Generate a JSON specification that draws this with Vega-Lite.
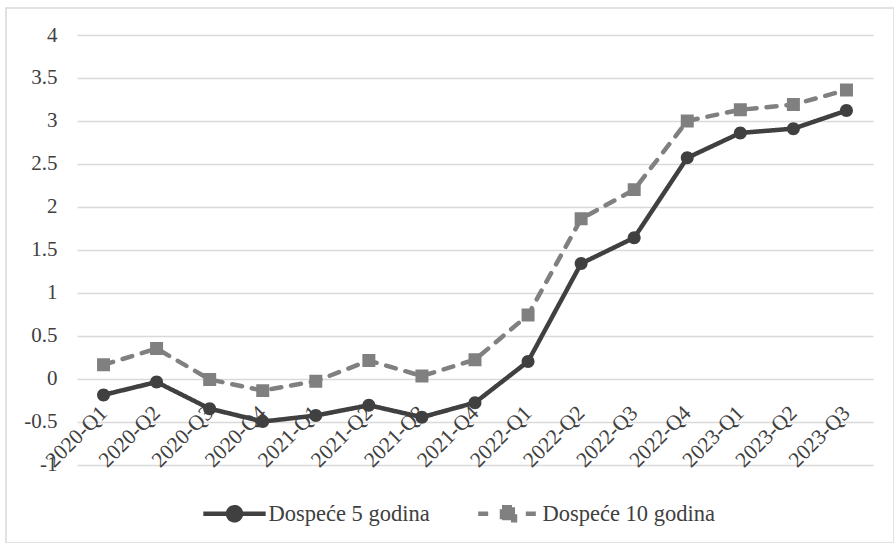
{
  "$schema": "https://vega.github.io/schema/vega-lite/v6.json",
  "width": 888,
  "height": 535,
  "autosize": {"type": "none"},
  "padding": {"left": 6, "top": 8, "right": 0, "bottom": 0},
  "background": "white",
  "config": {
    "font": "Liberation Serif",
    "view": {"stroke": "#d9d9d9", "strokeWidth": 1.5},
    "legend": {
      "orient": "none",
      "direction": "horizontal",
      "legendX": 182.5,
      "legendY": 459.5,
      "padding": 0,
      "offset": 0,
      "symbolSize": 7500,
      "symbolStrokeWidth": 4.5,
      "labelOffset": -12,
      "columnPadding": 32,
      "labelLimit": 400,
      "labelFont": "Liberation Serif",
      "labelFontSize": 22.5,
      "labelColor": "#404040"
    }
  },
  "data": {
    "values": [
      {"q": "2020-Q1", "series": "Dospeće 5 godina", "v": -0.19},
      {"q": "2020-Q2", "series": "Dospeće 5 godina", "v": -0.04},
      {"q": "2020-Q3", "series": "Dospeće 5 godina", "v": -0.35},
      {"q": "2020-Q4", "series": "Dospeće 5 godina", "v": -0.5},
      {"q": "2021-Q1", "series": "Dospeće 5 godina", "v": -0.43},
      {"q": "2021-Q2", "series": "Dospeće 5 godina", "v": -0.31},
      {"q": "2021-Q3", "series": "Dospeće 5 godina", "v": -0.45},
      {"q": "2021-Q4", "series": "Dospeće 5 godina", "v": -0.28},
      {"q": "2022-Q1", "series": "Dospeće 5 godina", "v": 0.2},
      {"q": "2022-Q2", "series": "Dospeće 5 godina", "v": 1.34},
      {"q": "2022-Q3", "series": "Dospeće 5 godina", "v": 1.64},
      {"q": "2022-Q4", "series": "Dospeće 5 godina", "v": 2.57},
      {"q": "2023-Q1", "series": "Dospeće 5 godina", "v": 2.86},
      {"q": "2023-Q2", "series": "Dospeće 5 godina", "v": 2.91},
      {"q": "2023-Q3", "series": "Dospeće 5 godina", "v": 3.12},
      {"q": "2020-Q1", "series": "Dospeće 10 godina", "v": 0.16},
      {"q": "2020-Q2", "series": "Dospeće 10 godina", "v": 0.35},
      {"q": "2020-Q3", "series": "Dospeće 10 godina", "v": -0.01},
      {"q": "2020-Q4", "series": "Dospeće 10 godina", "v": -0.14},
      {"q": "2021-Q1", "series": "Dospeće 10 godina", "v": -0.03},
      {"q": "2021-Q2", "series": "Dospeće 10 godina", "v": 0.21},
      {"q": "2021-Q3", "series": "Dospeće 10 godina", "v": 0.03},
      {"q": "2021-Q4", "series": "Dospeće 10 godina", "v": 0.22},
      {"q": "2022-Q1", "series": "Dospeće 10 godina", "v": 0.74},
      {"q": "2022-Q2", "series": "Dospeće 10 godina", "v": 1.86},
      {"q": "2022-Q3", "series": "Dospeće 10 godina", "v": 2.2},
      {"q": "2022-Q4", "series": "Dospeće 10 godina", "v": 3.0},
      {"q": "2023-Q1", "series": "Dospeće 10 godina", "v": 3.13},
      {"q": "2023-Q2", "series": "Dospeće 10 godina", "v": 3.19},
      {"q": "2023-Q3", "series": "Dospeće 10 godina", "v": 3.36}
    ]
  },
  "encoding": {
    "x": {
      "field": "q",
      "type": "nominal",
      "sort": null,
      "scale": {"type": "point", "range": [71, 867], "padding": 0.5},
      "axis": {
        "title": null,
        "orient": "bottom",
        "offset": -164.4,
        "domain": false,
        "ticks": false,
        "grid": false,
        "labelAngle": -45,
        "labelAlign": "right",
        "labelBaseline": "middle",
        "labelPadding": 31,
        "labelFont": "Liberation Serif",
        "labelFontSize": 21.5,
        "labelColor": "#404040",
        "labelOverlap": false
      }
    },
    "y": {
      "field": "v",
      "type": "quantitative",
      "scale": {"domain": [-1, 4], "range": [456.5, 27], "nice": false, "zero": false},
      "axis": {
        "title": null,
        "orient": "left",
        "offset": -71,
        "values": [-1, -0.5, 0, 0.5, 1, 1.5, 2, 2.5, 3, 3.5, 4],
        "labelExpr": "'' + datum.value",
        "domain": false,
        "ticks": false,
        "grid": true,
        "gridColor": "#d9d9d9",
        "gridWidth": 1.5,
        "labelPadding": 20,
        "labelFont": "Liberation Serif",
        "labelFontSize": 21,
        "labelColor": "#404040",
        "labelOverlap": false
      }
    },
    "color": {
      "field": "series",
      "type": "nominal",
      "scale": {"domain": ["Dospeće 5 godina", "Dospeće 10 godina"], "range": ["#404040", "#808080"]},
      "legend": {"title": null}
    }
  },
  "layer": [
    {
      "mark": {"type": "line", "strokeWidth": 4.5, "strokeCap": "round", "strokeJoin": "round"},
      "encoding": {
        "strokeDash": {
          "field": "series",
          "type": "nominal",
          "scale": {"domain": ["Dospeće 5 godina", "Dospeće 10 godina"], "range": [[1, 0], [10, 10]]},
          "legend": null
        }
      }
    },
    {
      "description": "Markers: the filled part of each symbol is the circle or square; the open line strokes only show in the legend key.",
      "mark": {"type": "point", "filled": true, "opacity": 1, "size": 7500},
      "encoding": {
        "shape": {
          "field": "series",
          "type": "nominal",
          "scale": {
            "domain": ["Dospeće 5 godina", "Dospeće 10 godina"],
            "range": [
              "M-0.72,0H0.72M-0.15,0A0.15,0.15,0,1,1,0.15,0A0.15,0.15,0,1,1,-0.15,0Z",
              "M-0.7,0H-0.4M0.4,0H0.7M-0.15,-0.15H0.15V0.15H-0.15Z"
            ]
          },
          "legend": {"title": null}
        }
      }
    },
    {
      "description": "Stroke colour for the legend key (no marks of its own).",
      "transform": [{"filter": "false"}],
      "mark": {"type": "point", "filled": false, "size": 7500, "strokeWidth": 4.5},
      "encoding": {
        "stroke": {
          "field": "series",
          "type": "nominal",
          "scale": {"domain": ["Dospeće 5 godina", "Dospeće 10 godina"], "range": ["#404040", "#808080"]},
          "legend": {"title": null}
        }
      }
    }
  ]
}
